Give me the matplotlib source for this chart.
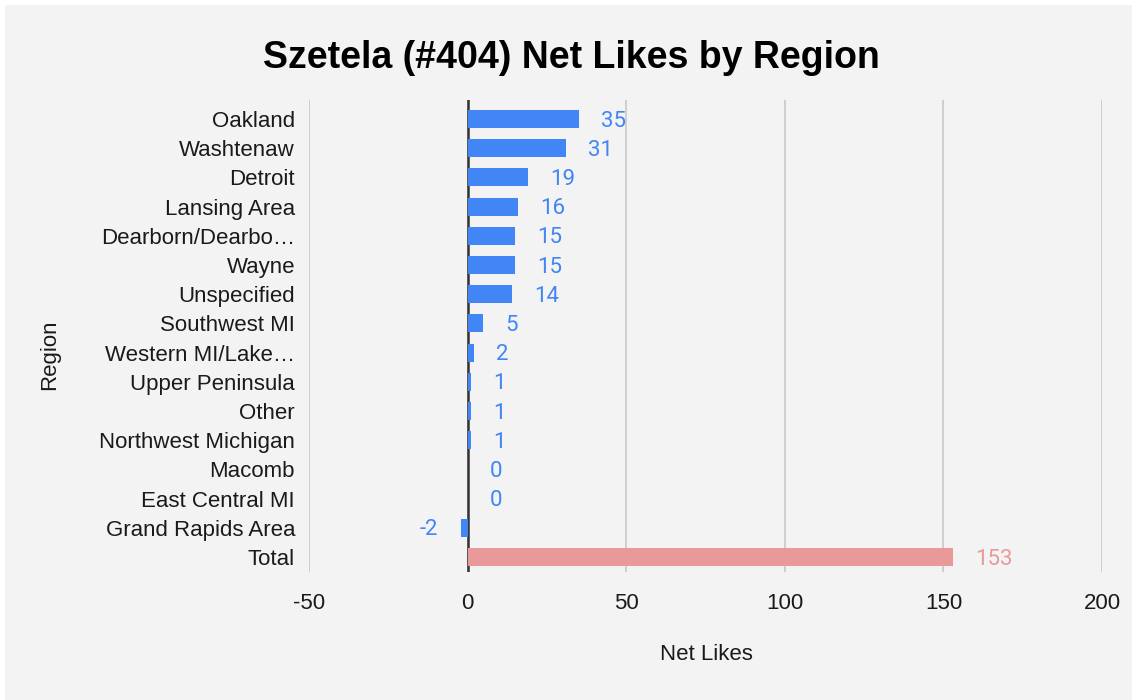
import matplotlib
matplotlib.use("Agg")
import matplotlib.pyplot as plt
from matplotlib.patches import Rectangle

regions = ["Oakland", "Washtenaw", "Detroit", "Lansing Area", "Dearborn/Dearbo…",
           "Wayne", "Unspecified", "Southwest MI", "Western MI/Lake…", "Upper Peninsula",
           "Other", "Northwest Michigan", "Macomb", "East Central MI", "Grand Rapids Area", "Total"]
net_likes = [35, 31, 19, 16, 15, 15, 14, 5, 2, 1, 1, 1, 0, 0, -2, 153]
x_ticks = [-50, 0, 50, 100, 150, 200]

BLUE = "#4285f4"
PINK = "#ea9999"
BG = "#f3f3f3"
TXT = "#1a1a1a"

plt.rcParams['font.family'] = ['Liberation Sans', 'DejaVu Sans']

fig = plt.figure(figsize=(11.32, 7.0), dpi=100)
fig.patch.set_facecolor("white")
fig.patches.append(Rectangle((5/1132, 0), 1, 1 - 5/700, transform=fig.transFigure,
                             facecolor=BG, edgecolor="none", zorder=-10))

ax = fig.add_axes([309/1132, 1 - 572/700, (1102 - 309)/1132, (572 - 100)/700])
ax.set_facecolor(BG)

ypos = list(range(len(regions)))
colors = [BLUE] * (len(regions) - 1) + [PINK]
ax.barh(ypos, net_likes, height=0.62, color=colors, zorder=3)

for y, v, c in zip(ypos, net_likes, colors):
    if v >= 0:
        ax.annotate(str(v), (v, y), xytext=(16, -1.5), textcoords="offset points",
                    ha="left", va="center", color=c, fontsize=16,
                    family=['Roboto', 'DejaVu Sans'])
    else:
        ax.annotate(str(v), (v, y), xytext=(-17, -1.5), textcoords="offset points",
                    ha="right", va="center", color=c, fontsize=16,
                    family=['Roboto', 'DejaVu Sans'])

ax.set_xlim(-50, 200)
ax.set_ylim(15.51, -0.65)
ax.set_xticks(x_ticks)
ax.set_xticklabels([str(t) for t in x_ticks])
ax.set_yticks(ypos)
ax.set_yticklabels(regions)
ax.grid(axis="x", color="#cccccc", linewidth=1.3, zorder=0)
ax.axvline(0, color="#333333", linewidth=1.8, zorder=2)
for s in ax.spines.values():
    s.set_visible(False)
ax.tick_params(axis="both", length=0, labelsize=16, colors=TXT)
ax.tick_params(axis="x", pad=15)
ax.tick_params(axis="y", pad=10)

fig.text(706/1132, 1 - 655/700, "Net Likes", ha="center", va="center", fontsize=16, color=TXT)
fig.text(50/1132, 1 - 355/700, "Region", ha="center", va="center", fontsize=16,
         color=TXT, rotation=90)
fig.text(571/1132, 1 - 58/700, "Szetela (#404) Net Likes by Region", ha="center", va="center",
         fontsize=27, fontweight="bold", color="#000000")

fig.savefig("out.png", dpi=100, facecolor=fig.get_facecolor())
